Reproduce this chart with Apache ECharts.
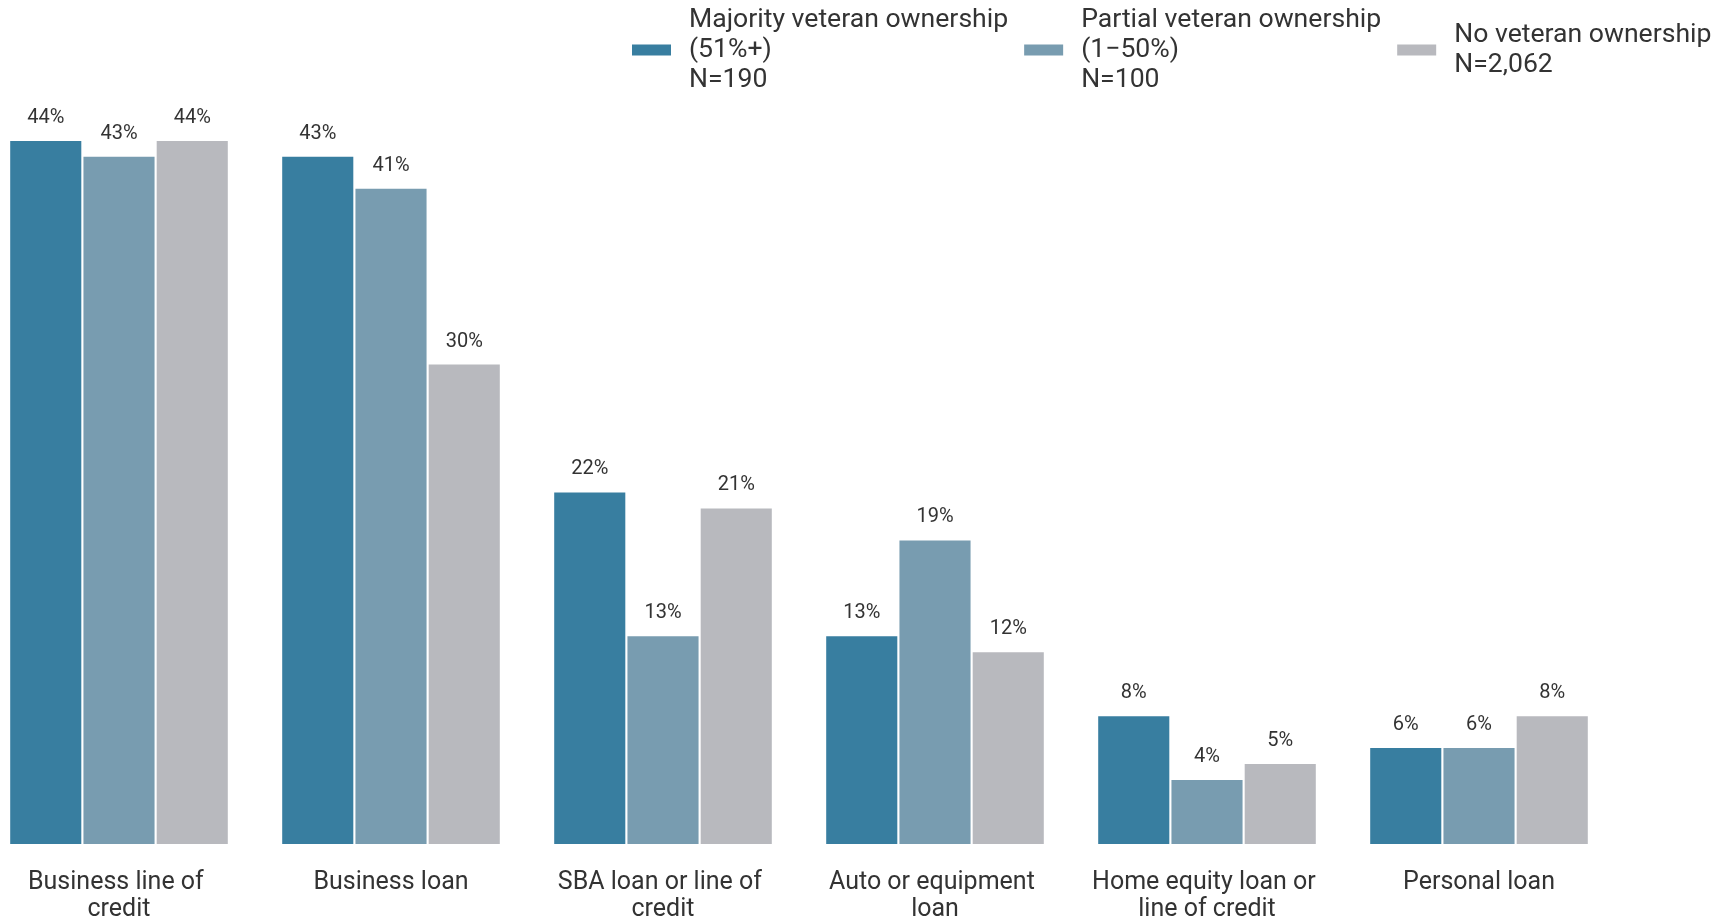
<!DOCTYPE html>
<html>
<head>
<meta charset="utf-8">
<title>Loan types by veteran ownership</title>
<script src="https://cdn.jsdelivr.net/npm/echarts@6/dist/echarts.min.js"></script>
<style>
	html, body { margin: 0; padding: 0; background: #fff; }
	#main { width: 1724px; height: 921px; }
</style>
</head>
<body>
<div id="main"></div>
<script>
// 类目
var categories = ['Business line of credit', 'Business loan', 'SBA loan or line of credit', 'Auto or equipment loan', 'Home equity loan or line of credit', 'Personal loan'];
// 图例名称
var series_names = ['Majority veteran ownership\n(51%+)\nN=190', 'Partial veteran ownership\n(1\u221250%)\nN=100', 'No veteran ownership\nN=2,062'];
// 各系列数值 (%)
var majority_data = [44, 43, 22, 13, 8, 6];
var partial_data = [43, 41, 13, 19, 4, 6];
var none_data = [44, 30, 21, 12, 5, 8];
var series_colors = ['#387ea0', '#789cb0', '#b8b9be'];

var chart = echarts.init(document.getElementById('main'));

function makeSeries(name, data, color) {
	return {
		name: name,
		type: 'bar',
		data: data,
		barGap: '3%',
		barCategoryGap: '20%',
		itemStyle: {
			color: color
		},
		label: {
			show: true,
			position: 'top',
			distance: 13,
			formatter: '{c}%',
			fontFamily: 'Roboto',
			fontSize: 20,
			color: '#333'
		}
	};
}

var option = {
	animation: false,
	textStyle: { fontFamily: 'Roboto' },
	legend: {
		left: 632,
		top: 5,
		padding: 0,
		itemWidth: 39,
		itemHeight: 11,
		itemGap: 16,
		icon: 'rect',
		textStyle: {
			fontFamily: 'Roboto',
			fontSize: 26.6,
			lineHeight: 30,
			padding: [0, 0, 0, 13],
			color: '#333'
		}
	},
	grid: {
		outerBoundsMode: 'none',
		left: -17,
		width: 1632,
		top: 45,
		bottom: 77
	},
	xAxis: {
		type: 'category',
		data: categories,
		axisLine: { show: false },
		axisTick: { show: false },
		axisLabel: {
			interval: 0,
			margin: 25,
			width: 230,
			overflow: 'break',
			fontFamily: 'Roboto',
			fontSize: 25,
			lineHeight: 27,
			color: '#333'
		}
	},
	yAxis: {
		type: 'value',
		min: 0,
		max: 50,
		show: false,
		splitLine: { show: false }
	},
	series: [
		makeSeries(series_names[0], majority_data, series_colors[0]),
		makeSeries(series_names[1], partial_data, series_colors[1]),
		makeSeries(series_names[2], none_data, series_colors[2])
	]
};

chart.setOption(option);
</script>
</body>
</html>
